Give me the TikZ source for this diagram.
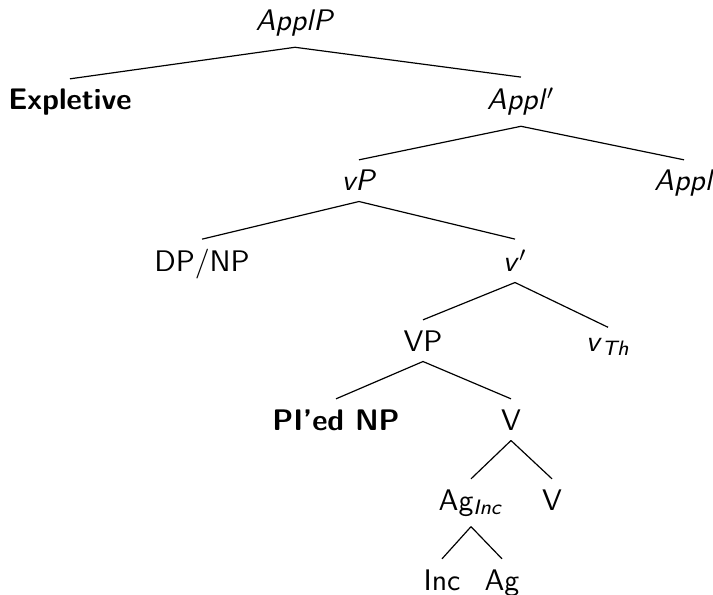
\documentclass[tikz,border=0pt]{standalone}
\begin{document}
\begin{tikzpicture}[x=0.336pt, y=-0.336pt,
    lbl/.style={anchor=base, font=\sffamily}]
  \useasboundingbox (0,0) rectangle (713,595);
  % Knoten
  \node[lbl] (applp) at (295,31) {\textit{ApplP}};
  \node[lbl] (expl) at (70,110) {\textbf{Expletive}};
  \node[lbl] (applbar) at (521,110) {\textit{Appl}$'$};
  \node[lbl] (vp) at (359,191) {\textit{vP}};
  \node[lbl] (appl) at (684,191) {\textit{Appl}};
  \node[lbl] (dpnp) at (202,272) {DP/NP};
  \node[lbl] (vbar) at (515,272) {\textit{v}$'$};
  \node[lbl] (VP) at (423,351) {VP};
  \node[lbl] (vth) at (608,351) {\textit{v}\textsubscript{\textit{Th}}};
  \node[lbl] (pied) at (336,430) {\textbf{PI'ed NP}};
  \node[lbl] (V1) at (511,430) {V};
  \node[lbl] (aginc) at (471,510) {Ag\textsubscript{\textit{Inc}}};
  \node[lbl] (V2) at (552,510) {V};
  \node[lbl] (inc) at (442,590) {Inc};
  \node[lbl] (ag) at (502,590) {Ag};
  % Kanten
  \draw (applp.south) -- (expl.north);
  \draw (applp.south) -- (applbar.north);
  \draw (applbar.south) -- (vp.north);
  \draw (applbar.south) -- (appl.north);
  \draw (vp.south) -- (dpnp.north);
  \draw (vp.south) -- (vbar.north);
  \draw (vbar.south) -- (VP.north);
  \draw (vbar.south) -- (vth.north);
  \draw (VP.south) -- (pied.north);
  \draw (VP.south) -- (V1.north);
  \draw (V1.south) -- (aginc.north);
  \draw (V1.south) -- (V2.north);
  \draw (aginc.south) -- (inc.north);
  \draw (aginc.south) -- (ag.north);
\end{tikzpicture}
\end{document}
